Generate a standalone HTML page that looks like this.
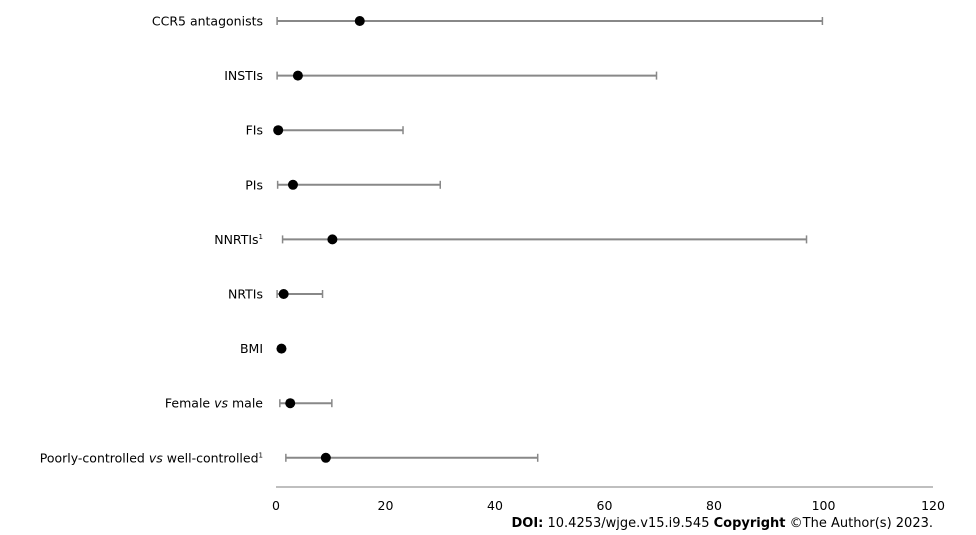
<!DOCTYPE html>
<html><head><meta charset="utf-8"><style>
html,body{margin:0;padding:0;background:#fff;width:976px;height:535px;overflow:hidden}
svg text{font-family:"DejaVu Sans","Liberation Sans",sans-serif;font-size:12.5px;fill:#000}
</style></head><body>
<svg id="chart" width="976" height="535" xmlns="http://www.w3.org/2000/svg">
<line x1="276" y1="487" x2="933" y2="487" stroke="#aaa" stroke-width="1.5"/>
<g id="ticks"></g><g id="rows"></g>
<text x="933" y="527" text-anchor="end" style="font-size:13px"><tspan font-weight="bold">DOI:</tspan> 10.4253/wjge.v15.i9.545 <tspan font-weight="bold">Copyright</tspan> ©The Author(s) 2023.</text>
</svg>
<script>
const categories=["CCR5 antagonists","INSTIs","FIs","PIs","NNRTIs","NRTIs","BMI","Female vs male","Poorly-controlled vs well-controlled"];
const estimates=[15.3,4.0,0.4,3.1,10.3,1.4,1.0,2.6,9.1];
const lowers=[0.2,0.2,0.2,0.3,1.2,0.2,1.0,0.7,1.8];
const uppers=[99.8,69.5,23.2,30.0,96.9,8.5,1.0,10.2,47.8];
const tickValues=[0,20,40,60,80,100,120];
const NS="http://www.w3.org/2000/svg";
const x=v=>276+v*(933-276)/120;
const y=i=>21+i*54.6;
function mk(t,a,p){const e=document.createElementNS(NS,t);for(const k in a)e.setAttribute(k,a[k]);p.appendChild(e);return e;}
const tg=document.getElementById('ticks');
tickValues.forEach(v=>{
 const t=mk('text',{x:x(v),y:510,'text-anchor':'middle'},tg);
 
 
 t.textContent=v;
});
const rg=document.getElementById('rows');
categories.forEach((c,i)=>{
 const g=mk('g',{},rg);
 
 
 const yy=y(i);
 const lab=mk('text',{x:263,y:yy+4.5,'text-anchor':'end'},g);
 
 
 if(c.includes(' vs ')){const [a,b]=c.split(' vs ');lab.appendChild(document.createTextNode(a+' '));const it=mk('tspan',{'font-style':'italic'},lab);it.textContent='vs';lab.appendChild(document.createTextNode(' '+b));}
 else lab.textContent=c;
 if(c==="NNRTIs"||c.startsWith("Poorly")){const s=mk('tspan',{dy:-5,'font-size':'7'},lab);s.textContent='1';}
 if(uppers[i]>lowers[i]){
  const l=mk('line',{x1:x(lowers[i]),x2:x(uppers[i]),y1:yy,y2:yy,stroke:'#888','stroke-width':2},g);
  
  
  [lowers[i],uppers[i]].forEach(v=>{
   const cp=mk('line',{x1:x(v),x2:x(v),y1:yy-4,y2:yy+4,stroke:'#888','stroke-width':1.5},g);
   
   
  });
 }
 const d=mk('circle',{cx:x(estimates[i]),cy:yy,r:5,fill:'#000'},g);
 
 
});
</script>
</body></html>
